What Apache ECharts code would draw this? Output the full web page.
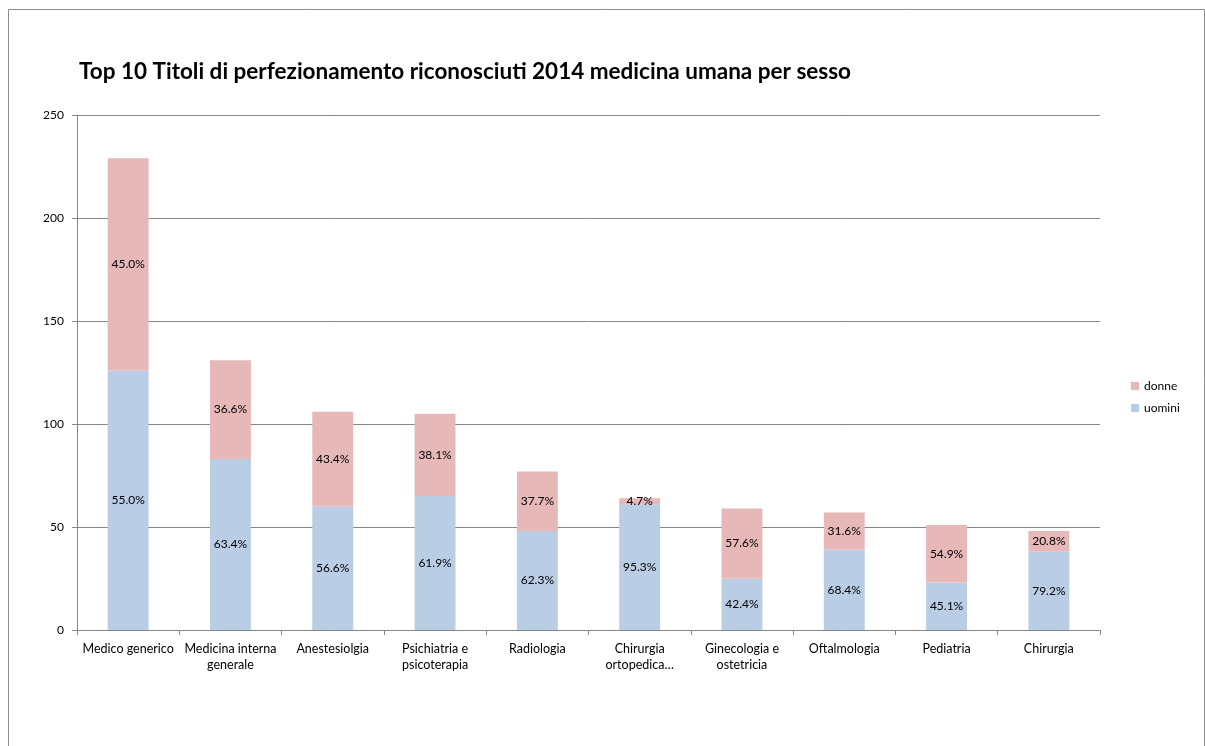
<!DOCTYPE html>
<html>
<head>
<meta charset="utf-8">
<script src="https://cdn.jsdelivr.net/npm/echarts@6/dist/echarts.min.js"></script>
<style>
  html, body { margin: 0; padding: 0; background: #fff; }
  #chart { width: 1205px; height: 746px; }
</style>
</head>
<body>
<div id="chart"></div>
<script>
// categorie (asse x) e valori per sesso
const categorie = ['Medico generico', 'Medicina interna\ngenerale', 'Anestesiolgia', 'Psichiatria e\npsicoterapia',
    'Radiologia', 'Chirurgia\nortopedica…', 'Ginecologia e\nostetricia', 'Oftalmologia', 'Pediatria', 'Chirurgia'];
const uomini = [126, 83, 60, 65, 48, 61, 25, 39, 23, 38];
const donne = [103, 48, 46, 40, 29, 3, 34, 18, 28, 10];
const tickY = [0, 50, 100, 150, 200, 250];

const font = 'Lato, "Open Sans", sans-serif';

// percentuale sul totale della colonna
function perc(serie, i) {
    const tot = uomini[i] + donne[i];
    return (serie[i] / tot * 100).toFixed(1) + '%';
}

const chart = echarts.init(document.getElementById('chart'));

const option = {
    animation: false,
    textStyle: { fontFamily: font },
    graphic: [{
        type: 'rect',
        shape: { x: 8.5, y: 9.5, width: 1196, height: 760 },
        style: { fill: 'none', stroke: '#8c8c8c', lineWidth: 1 },
        silent: true
    }],
    title: {
        text: 'Top 10 Titoli di perfezionamento riconosciuti 2014 medicina umana per sesso',
        left: 74,
        top: 55,
        textStyle: { fontFamily: font, fontSize: 22.5, fontWeight: 'bold', color: '#000' }
    },
    legend: {
        orient: 'vertical',
        left: 1126,
        top: 375,
        itemWidth: 8,
        itemHeight: 8,
        itemGap: 10,
        icon: 'rect',
        data: ['donne', 'uomini'],
        textStyle: { fontFamily: font, fontSize: 12, color: '#000' }
    },
    grid: { left: 77, right: 105, top: 115, bottom: 116 },
    xAxis: {
        type: 'category',
        data: categorie,
        axisLine: { lineStyle: { color: '#868686' } },
        axisTick: { show: true, length: 5, lineStyle: { color: '#868686' } },
        axisLabel: { color: '#000', fontSize: 12.5, fontFamily: font, interval: 0, margin: 11, lineHeight: 16 }
    },
    yAxis: {
        type: 'value',
        min: tickY[0],
        max: tickY[tickY.length - 1],
        interval: 50,
        axisLine: { show: true, lineStyle: { color: '#868686' } },
        axisTick: { show: true, length: 5, lineStyle: { color: '#868686' } },
        splitLine: { lineStyle: { color: '#868686' } },
        axisLabel: { color: '#000', fontSize: 12, fontFamily: font, margin: 13 }
    },
    series: [
        {
            name: 'uomini',
            type: 'bar',
            stack: 'tot',
            barWidth: '40%',
            data: uomini,
            itemStyle: { color: '#b9cde5' },
            label: {
                show: true, position: 'inside', color: '#000', fontSize: 12, fontFamily: font,
                formatter: p => perc(uomini, p.dataIndex)
            }
        },
        {
            name: 'donne',
            type: 'bar',
            stack: 'tot',
            barWidth: '40%',
            data: donne,
            itemStyle: { color: '#e6b9b8' },
            label: {
                show: true, position: 'inside', color: '#000', fontSize: 12, fontFamily: font,
                formatter: p => perc(donne, p.dataIndex)
            }
        }
    ]
};

chart.setOption(option);
</script>
</body>
</html>
